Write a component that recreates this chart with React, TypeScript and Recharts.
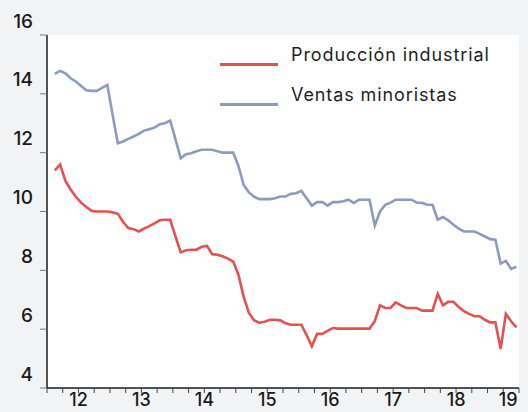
import { LineChart, Line, XAxis, YAxis, CartesianGrid } from "recharts";

// month index 0 = Jan 2012, series start Feb 2012
const firstMonth = 1;

const ventasMinoristas = [
  14.68, 14.78, 14.7, 14.53, 14.42, 14.27, 14.12, 14.1, 14.1, 14.2, 14.3,
  13.3, 12.32, 12.38, 12.47, 12.55, 12.64, 12.75, 12.8, 12.85, 12.97, 13.0, 13.09,
  12.45, 11.81, 11.95, 11.98, 12.05, 12.1, 12.1, 12.1, 12.05, 12.0, 12.0, 12.0,
  11.55, 10.9, 10.65, 10.5, 10.42, 10.42, 10.42, 10.45, 10.51, 10.51, 10.6, 10.62,
  10.7, 10.45, 10.2, 10.32, 10.32, 10.2, 10.32, 10.32, 10.35, 10.4, 10.29, 10.4,
  10.4, 10.4, 9.52, 10.0, 10.23, 10.3, 10.4, 10.4, 10.4, 10.4, 10.3, 10.3,
  10.23, 10.23, 9.72, 9.81, 9.7, 9.55, 9.42, 9.32, 9.32, 9.32, 9.24, 9.15,
  9.06, 9.04, 8.23, 8.32, 8.05, 8.12,
];

const produccionIndustrial = [
  11.4, 11.6, 11.05, 10.75, 10.5, 10.3, 10.15, 10.02, 10.0, 10.0, 10.0,
  9.97, 9.92, 9.65, 9.44, 9.4, 9.32, 9.42, 9.5, 9.6, 9.7, 9.72, 9.72,
  9.15, 8.61, 8.68, 8.7, 8.7, 8.8, 8.83, 8.55, 8.53, 8.48, 8.4, 8.3,
  7.85, 7.1, 6.55, 6.3, 6.22, 6.25, 6.32, 6.32, 6.3, 6.2, 6.15, 6.15,
  6.15, 5.8, 5.42, 5.84, 5.84, 5.94, 6.04, 6.02, 6.02, 6.02, 6.02, 6.02,
  6.02, 6.02, 6.27, 6.81, 6.72, 6.72, 6.91, 6.81, 6.72, 6.72, 6.72, 6.63,
  6.63, 6.63, 7.2, 6.81, 6.93, 6.93, 6.75, 6.61, 6.52, 6.44, 6.44, 6.32,
  6.23, 6.23, 5.33, 6.52, 6.27, 6.06,
];

const yTicks = [4, 6, 8, 10, 12, 14, 16];
const quarterTicks = Array.from({ length: 31 }, (_, i) => i * 3);
const yearLabels: Record<number, string> = {
  6: "12", 18: "13", 30: "14", 42: "15", 54: "16", 66: "17", 78: "18", 87: "19",
};

const RED = "#e25250";
const BLUE = "#8d9bbf";
const FONT = "Inter, 'Open Sans', sans-serif";

const data = ventasMinoristas.map((v, i) => ({
  t: firstMonth + i + 0.5,
  ventas: v,
  produccion: produccionIndustrial[i],
}));

const YTick = (props: any) => {
  const { y, payload } = props;
  return (
    <text x={33} y={y - 14} dy="0.35em" textAnchor="end" fontSize={19} fontWeight={500} fill="#1a1a1a" fontFamily={FONT}>
      {payload.value}
    </text>
  );
};

const XTick = (props: any) => {
  const { x, payload } = props;
  const label = yearLabels[payload.value];
  if (!label) return <g />;
  return (
    <text x={x + (payload.value === 87 ? 5 : 0)} y={400} dy="0.35em" textAnchor="middle" fontSize={18} fontWeight={500} fill="#1a1a1a" fontFamily={FONT}>
      {label}
    </text>
  );
};

const legendItems = [
  { name: "Producción industrial", color: RED, top: 64 },
  { name: "Ventas minoristas", color: BLUE, top: 104 },
];

export default function App() {
  return (
    <div style={{ position: "absolute", left: 0, top: 0, width: 528, height: 412, background: "#f2f3f5", overflow: "hidden" }}>
      <LineChart width={528} height={412} data={data} margin={{ top: 35, right: 9, bottom: 0, left: 7 }}>
        <CartesianGrid horizontal={false} vertical={false} fill="#ffffff" />
        <XAxis
          type="number"
          dataKey="t"
          domain={[0, 90]}
          ticks={quarterTicks}
          interval={0}
          height={24}
          tick={<XTick />}
          tickSize={5}
          tickLine={{ stroke: "#444" }}
          axisLine={{ stroke: "#1a1a1a", strokeWidth: 1.5 }}
        />
        <YAxis
          type="number"
          domain={[4, 16]}
          ticks={yTicks}
          width={40}
          tick={<YTick />}
          tickSize={7}
          tickLine={{ stroke: "#777" }}
          axisLine={{ stroke: "#1a1a1a", strokeWidth: 1.5 }}
        />
        <Line
          type="linear"
          dataKey="ventas"
          name="Ventas minoristas"
          stroke={BLUE}
          strokeWidth={2.6}
          dot={false}
          isAnimationActive={false}
        />
        <Line
          type="linear"
          dataKey="produccion"
          name="Producción industrial"
          stroke={RED}
          strokeWidth={2.6}
          dot={false}
          isAnimationActive={false}
        />
      </LineChart>
      {legendItems.map((it) => (
        <div key={it.name}>
          <div style={{ position: "absolute", left: 220, top: it.top - 1.5, width: 58, height: 3, background: it.color }} />
          <div
            style={{
              position: "absolute", left: 291, top: it.top - 21, fontSize: 18, lineHeight: "24px",
              letterSpacing: 0.9, fontFamily: FONT, color: "#1f1f1f", whiteSpace: "nowrap",
            }}
          >
            {it.name}
          </div>
        </div>
      ))}
    </div>
  );
}
